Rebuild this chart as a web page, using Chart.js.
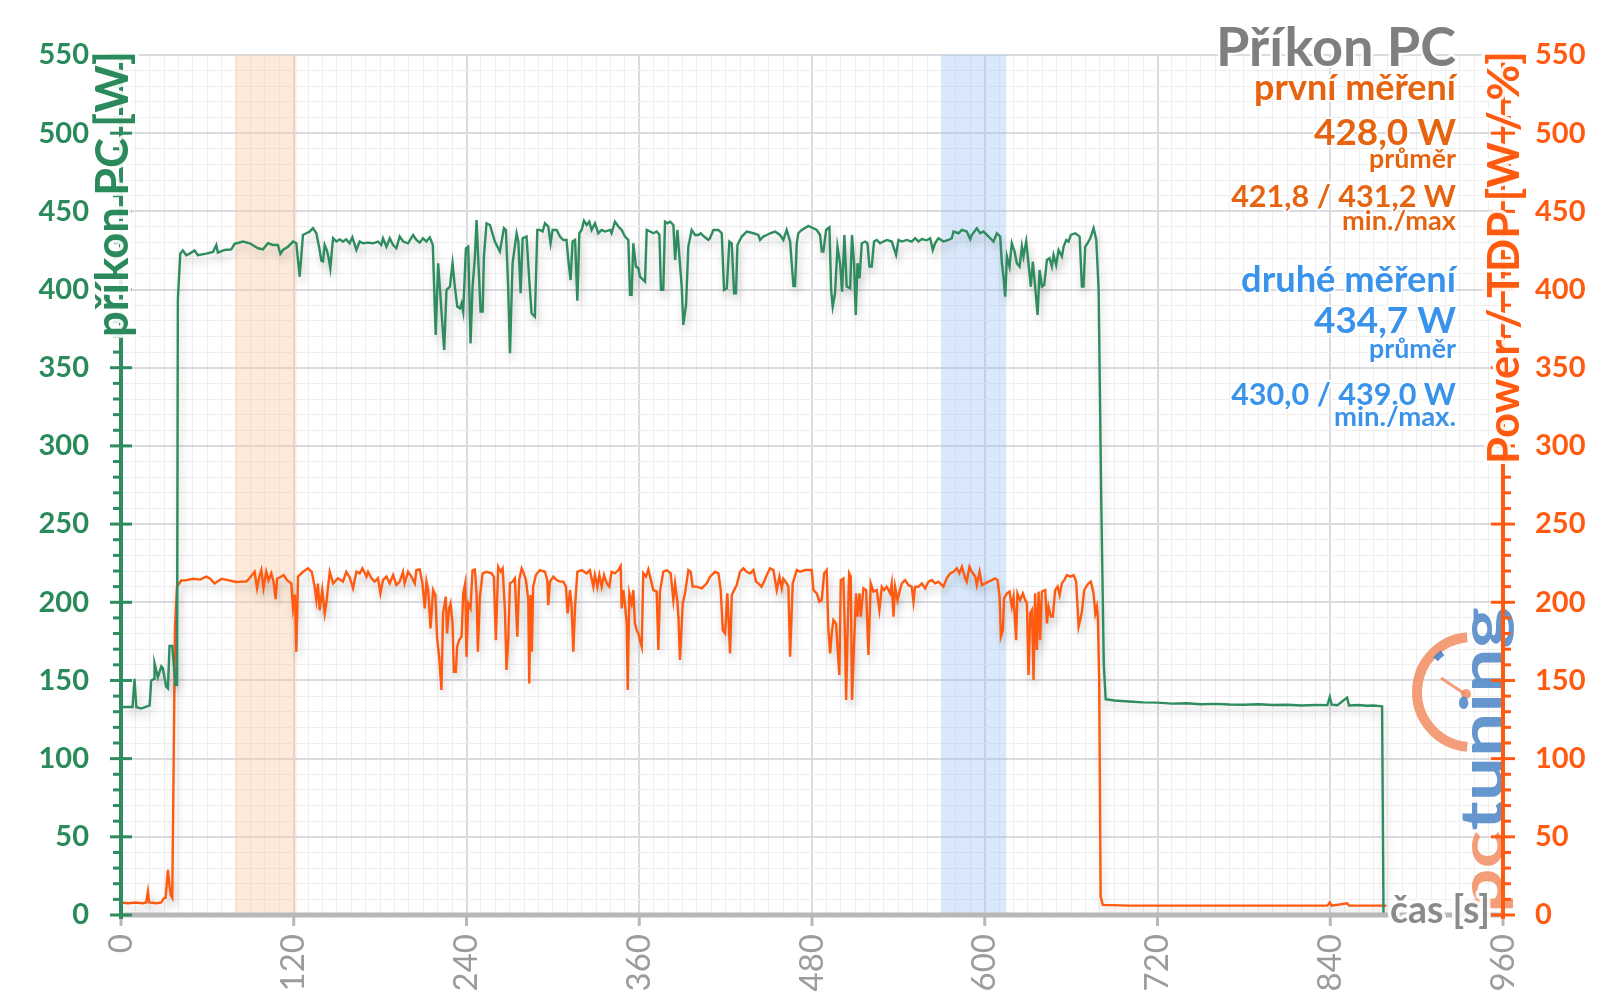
<!DOCTYPE html>
<html><head><meta charset="utf-8">
<script src="https://cdn.jsdelivr.net/npm/chart.js@4.4.1/dist/chart.umd.min.js"></script>
<style>html,body{margin:0;padding:0;background:#fff;overflow:hidden}#wrap{width:1600px;height:1008px}</style>
</head><body><div id="wrap"><canvas id="c" width="1600" height="1008"></canvas></div>
<script>
// ---------------- DATA ----------------
const xTickLabels = [0, 120, 240, 360, 480, 600, 720, 840, 960];
const yTickLabels = [0, 50, 100, 150, 200, 250, 300, 350, 400, 450, 500, 550];

const firstBand = [79, 122];   // s
const secondBand = [570, 615]; // s

const titleText = 'Příkon PC';
const firstTexts = ['první měření', '428,0 W', 'průměr', '421,8 / 431,2 W', 'min./max'];
const secondTexts = ['druhé měření', '434,7 W', 'průměr', '430,0 / 439,0 W', 'min./max.'];
const leftAxisTitle = 'příkon PC [W]';
const rightAxisTitle = 'Power / TDP [W / %]';
const xAxisTitle = 'čas [s]';

// příkon PC (left axis)
const greenTime = [
0, 8, 9.4, 10.6, 14, 19.9, 21, 23, 23.3, 25.6, 28, 29, 31.4, 32.6, 33.7, 35.6, 37.9, 38.9, 39.5, 41.2,
43, 45.3, 47.7, 51.1, 53.4, 59.2, 63.9, 66.2, 67.3, 72, 76.6, 78.9, 84.7, 89.4, 95.2, 98.6, 102.1, 105.6, 109, 110.7,
112.5, 116, 119.5, 121.8, 124.1, 126.4, 128.7, 131, 133.4, 135.7, 138, 139.2, 140.3, 141.5, 143, 144.3, 145.4, 147.3, 149.6, 151.9,
154.2, 156.5, 158.8, 160.7, 163.5, 165.8, 168.1, 171.6, 175, 178.5, 180.8, 182, 184.4, 186.7, 189, 191.3, 193.6, 196, 199.4, 202.9,
205.2, 207.5, 209.8, 212.2, 214.5, 216.6, 218.6, 220.3, 222.7, 224.5, 226.1, 228.5, 230.3, 231.9, 233.6, 235.4, 236.6, 237.7, 239.6, 241.2,
242.8, 244.2, 245.8, 247, 248.2, 249.8, 251.2, 252.1, 253.9, 256.3, 259.7, 263.2, 266, 267.4, 269, 270.2, 272, 274.8, 276, 277.6,
279, 281.7, 283.6, 285.2, 287.5, 289.2, 291, 292.9, 294.5, 296.8, 298.4, 299.8, 302.6, 304.9, 307.2, 309.5, 310.7, 312.3, 313.7, 315.4,
317, 318.4, 320, 321.6, 323.5, 325.3, 326.9, 329.2, 331.6, 333.9, 336.2, 339.7, 340.8, 343.1, 345.5, 347.8, 350.1, 352.4, 353.6, 354.7,
355.9, 357.7, 359.4, 360.5, 362.8, 364, 365.2, 367.5, 369.8, 372.1, 374, 375.1, 376.7, 377.9, 379.5, 381.4, 383.7, 384.9, 386.5, 387.9,
389.5, 390.6, 392.5, 394.1, 396.4, 398.8, 401.1, 402.7, 405, 408, 409.1, 411.5, 415, 417.3, 418.9, 420.8, 422.6, 424.2, 425.9, 427.2,
428.2, 431.2, 434.7, 439.3, 442.7, 443.9, 446.2, 448.6, 450.9, 454.4, 457.8, 460.1, 462.4, 464.8, 465.9, 467.1, 468.2, 469.4, 470.5, 472.9,
477.5, 481, 483.3, 485.6, 486.8, 487.9, 489.8, 492.1, 493.3, 494.4, 496, 497.7, 499.5, 500.9, 502.5, 504.1, 506.5, 507.8, 509.2, 510.4,
511.6, 513, 514.6, 516.9, 518.5, 519.9, 521.5, 523.1, 525, 527.3, 529.6, 532, 535.4, 538.4, 540.1, 542.4, 545.8, 549.3, 551.6, 554,
556.3, 559.7, 562.1, 563.9, 565.5, 567.8, 571.3, 574.8, 577.1, 578.3, 581.8, 584.1, 587.5, 589.9, 591, 594.5, 596.8, 599.1, 601.5, 603.8,
606.1, 608.4, 610.7, 611.9, 613, 614.2, 615.4, 617.2, 618.8, 620.7, 622.3, 624.2, 625.8, 626.9, 628.8, 630.4, 632, 633.4, 635, 636.7,
638.1, 639.7, 641.3, 643.2, 645, 646.6, 647.8, 649.6, 651.3, 653.6, 654.8, 656.6, 658.2, 659.8, 662.9, 665.9, 667.5, 668.6, 669.8, 671.4,
673.3, 675.6, 677.5, 679.1, 681, 682.7, 684, 690, 700, 710, 720, 730, 740, 750, 760, 770, 780, 790, 800, 810,
820, 830, 838, 839.7, 841, 845, 851.7, 853, 860, 865, 870, 876, 877
];
const greenPower = [
133, 133, 151, 133, 132, 134, 150, 151, 161, 152, 159, 158, 146, 145, 172, 172, 147, 147, 394, 423,
425, 422, 423, 425, 422, 423, 424, 428.5, 423.6, 425.3, 425.7, 429.2, 430.7, 429.6, 426.4, 425.7, 429.6, 428.5, 428.5, 422.8,
425.3, 427.4, 430.7, 429.6, 408.3, 434.9, 436, 437, 439.2, 436, 425.3, 418.3, 418, 428.5, 425, 420, 413.6, 432.8, 430.7, 432,
430.7, 432.1, 429.6, 433.4, 425.3, 430.7, 429.6, 430, 429.6, 430.7, 428.5, 432.8, 427.4, 432.8, 428.5, 426.4, 433.9, 430.7, 429.6, 434.9,
431.7, 430, 432.8, 430.7, 433.4, 428.5, 371, 416.8, 385, 361.4, 399.8, 401.9, 416.8, 401.9, 389.1, 388, 391.2, 385.9, 426.4, 427.5,
365.6, 401.9, 420, 444.5, 418.9, 385.9, 385.9, 421.1, 442.4, 441.3, 430.7, 424.3, 439.2, 438, 399.8, 359.3, 416.8, 436, 430.7, 397.6,
432.8, 433.9, 406.1, 384.8, 382.7, 438.1, 438.1, 437.1, 442.4, 440.3, 429.6, 438.1, 438.1, 433.9, 431.7, 431.7, 418.9, 406.1, 430.7, 431.7,
392.9, 436, 438.1, 444, 441.3, 443.4, 438.1, 442.4, 436, 438.1, 437.1, 438.1, 436, 443.4, 440.3, 438.1, 433.9, 431.7, 396.6, 396.6,
429.6, 414.7, 413.6, 408.3, 406.1, 405, 438.1, 437.1, 436, 437.1, 435, 399.8, 399.8, 443.4, 442.4, 443.4, 441.3, 418.9, 438.1, 421,
401.9, 377.4, 390.2, 427.5, 438.1, 434.9, 434.9, 436, 433.9, 431.7, 432.8, 438.1, 438.1, 436, 399.8, 400.8, 430.7, 429.6, 397.6, 397.6,
428.5, 433.9, 437.1, 436, 434.9, 431.7, 433.9, 434.9, 436, 437.1, 434.9, 431.7, 438.1, 430.7, 416.8, 402.3, 402.3, 429.6, 436, 438.1,
440.7, 439.2, 438.1, 434.9, 424.3, 424.3, 438.1, 439.8, 399.8, 389.1, 397.6, 427.5, 416.8, 398.7, 434.9, 401.9, 400.8, 434.9, 416.8, 383.8,
416.8, 407.2, 429.6, 430.7, 429.6, 414.7, 414.7, 430.7, 431.7, 429.6, 430.7, 431.7, 430.7, 422.1, 431.7, 430.7, 431.7, 430.7, 432.8, 430.7,
432.3, 431.5, 432.8, 425.3, 429.6, 432.8, 430.7, 431.7, 432.8, 437.1, 436, 438.1, 437.1, 432.1, 434.9, 439.2, 436, 437.1, 434.9, 432.8,
430.7, 436, 433.9, 416.8, 408.3, 395.5, 421.1, 414.7, 429.6, 424.3, 416.8, 414.7, 427.5, 421.1, 430.7, 416.8, 401.9, 417.9, 401.9, 383.8,
412.5, 401.9, 403, 418.9, 420, 414.7, 422.1, 415.7, 425.3, 421.1, 427.5, 431.7, 430.7, 434.9, 436, 433.9, 401.9, 401.9, 427.5, 429.6,
432.8, 439.2, 431.7, 399.8, 260, 160, 138, 137.2, 136.5, 136, 135.8, 135.2, 135.4, 134.8, 135, 134.6, 134.5, 134.8, 134.3, 134.5,
134, 134.3, 134.2, 139.5, 134.5, 134.2, 139, 134, 134.3, 133.8, 134, 133.5, 0
];

// Power / TDP (right axis)
const orangeTime = [
0, 5, 10, 15, 17.5, 18.7, 19.5, 25, 28, 29.6, 31, 32.6, 33.8, 34.5, 35.6, 36.5, 37.5, 38.9, 41.9, 45,
50, 55, 59.2, 62, 65, 70, 75, 80, 84.7, 87, 89, 92.8, 94.5, 96, 97.5, 99, 100.9, 102.5, 104.4, 106,
107.4, 108.5, 110.5, 113, 115.5, 118.3, 119.5, 120.8, 121.8, 123, 126.5, 129.9, 132.5, 134.5, 135.7, 136.8, 138, 139.8, 141.5, 142.7,
145, 147.3, 150.7, 154.2, 156.5, 158.8, 161.2, 163.5, 165.8, 167.7, 170.5, 171.6, 174, 176.2, 178.5, 180.2, 182, 184.4, 186.7, 189,
191.3, 193.6, 195.9, 197, 199.4, 201.7, 204.1, 205.2, 207.5, 209.4, 211, 212.2, 213.4, 215, 216.8, 218.4, 219.6, 221, 222.6, 223.7,
225.6, 226.5, 227.9, 228.9, 230.3, 231.2, 232.6, 233.5, 234.9, 236.6, 237.7, 239.1, 240, 241.2, 242.8, 244.2, 245.8, 247, 247.9, 249.3,
251.2, 253.9, 257.4, 259, 260.4, 262, 263.7, 265.1, 266.7, 267.8, 269, 270.2, 272, 273.6, 275.3, 276.6, 278.3, 279.4, 281.3, 282.9,
283.6, 284.5, 285.4, 286.3, 288.2, 291, 294.5, 296.1, 296.8, 298, 300.3, 302.6, 304.9, 307.2, 309.1, 310.2, 311.9, 313, 314.2, 315.4,
317, 320, 323.4, 325.7, 328.1, 329.2, 330.9, 332.3, 333.9, 335.5, 337.4, 339.2, 340.8, 343.1, 345.5, 347.1, 347.8, 349, 350.1, 351.3,
352, 353.1, 354.7, 355.9, 357, 358.2, 359.4, 360.5, 361.7, 362.8, 364.7, 366.3, 367.5, 369.8, 372.1, 373.3, 374.4, 376.7, 379.1, 381.8,
383.7, 384.9, 386.5, 387.2, 388.3, 390.2, 391.8, 394.1, 395.7, 397.1, 399.9, 403.4, 406.9, 409.2, 412.6, 415, 416.6, 418, 419.6, 421.2,
423.1, 424.3, 425.9, 427.7, 430, 432.3, 434.6, 437, 439.3, 441.1, 442.7, 444.9, 446.7, 448.6, 450.9, 453.2, 455.5, 457.4, 459, 460.1,
462.4, 463.6, 464.8, 466.6, 469.4, 471.8, 475.2, 479.8, 481, 483.3, 485.1, 486.8, 488.4, 490.2, 491.4, 492.6, 493.7, 494.9, 496.7, 497.7,
499, 500, 501.8, 503, 503.7, 504.6, 505.8, 506.9, 507.8, 509.2, 510.6, 511.6, 513, 513.9, 515.7, 517.6, 519.2, 520.8, 522.7, 525,
526.8, 528.5, 530.1, 531.9, 534.3, 535.4, 536.6, 537.7, 539.4, 540.8, 542.4, 544.7, 547, 549.3, 550.5, 551.6, 554, 556.3, 558.6, 560.9,
563.2, 565.5, 567.8, 571.3, 573.6, 576, 578.3, 580.6, 582.4, 584.1, 586.4, 587.5, 589.4, 591, 593.4, 594.5, 596.4, 598, 600.3, 602.6,
604.9, 607.2, 608.9, 610.3, 611.2, 612.6, 613.4, 615.4, 617.2, 618.8, 620, 621.8, 622.7, 624.6, 626.5, 628.1, 629.3, 630.4, 631.6, 632.8,
633.9, 635, 636.2, 637.4, 638.5, 639.7, 642, 643.2, 644.3, 646, 647.3, 648.9, 650.6, 652, 653.6, 655.2, 657.1, 659.4, 661.7, 663.5,
665.2, 666.3, 667.5, 669.1, 670.5, 672.1, 673.7, 675.6, 676.8, 677.9, 678.6, 679.5, 680.5, 682, 700, 720, 760, 800, 838, 839.7,
841, 851.7, 853, 879
];
const orangePower = [
8, 7.5, 8, 7.5, 8, 15, 8, 7.5, 8, 10.6, 11, 28.8, 18, 12.8, 11, 90, 184, 210, 214, 214,
215, 214.5, 216.4, 215, 212, 215, 214, 213, 213.2, 213.2, 215, 219.5, 208.9, 216, 220.6, 209, 219.5, 214, 218.5, 213,
202, 215, 216, 217.4, 214, 212.1, 196.1, 205, 168.4, 216.4, 219.5, 221.7, 219.5, 210, 201.4, 212, 195, 208, 192.9, 200,
219.5, 212.1, 215.3, 213.2, 219.5, 216, 208.9, 219.5, 218.5, 221.7, 216.4, 219.5, 215.3, 213.2, 215.3, 205.7, 214.2, 216.4, 212.1, 217.4,
211, 213.2, 219.5, 212.1, 219.5, 216.4, 212.1, 220.6, 221, 212.1, 196.1, 213.2, 207.8, 183.3, 207.8, 204.6, 176.9, 165.2, 143.9, 192.9,
203.6, 180.1, 196, 199.3, 186.5, 155.6, 155.6, 171.6, 175.8, 178, 205.7, 212.1, 165.2, 199.3, 196.1, 220.6, 221, 205.7, 168.4, 203.6,
218.5, 219.5, 218.5, 216.4, 175.8, 222.7, 219.5, 221.7, 195, 156.7, 175.8, 212.1, 213.2, 215.3, 178, 214.2, 221.7, 219.5, 214.2, 201.4,
148.1, 204.6, 168.4, 209.9, 217.4, 220.6, 219.5, 214.2, 198.2, 213.2, 216.4, 214.2, 213.2, 213.2, 210, 192.9, 207.8, 197.2, 168.4, 197.2,
219.5, 220.6, 218.5, 220.6, 210, 217.4, 210, 217.4, 210, 217.4, 212.1, 210, 219.5, 218.5, 220.6, 223.2, 196.1, 207.8, 198.2, 186.5,
143.9, 205.7, 199.3, 207.8, 186.5, 182.2, 180, 175.8, 171.6, 218.5, 216.4, 221, 216.4, 207.8, 206.8, 169.5, 206.8, 219.5, 220.6, 218.5,
201.4, 212.1, 200.4, 190.8, 163.1, 199.3, 205.7, 220.6, 219.5, 210, 210, 208.9, 212.1, 216.4, 219.5, 218.5, 207.8, 182.2, 180.1, 205.7,
167.3, 204.6, 207.8, 211, 219.5, 221.7, 219.5, 218.5, 220.6, 213.2, 212.1, 210, 213.2, 217.4, 221.7, 220.6, 207.8, 216.4, 208.9, 215,
212, 210, 165.2, 212.1, 220.6, 219.5, 220.6, 220.6, 207.8, 205.7, 200.4, 201.4, 218.5, 220.6, 182.2, 167.3, 180.1, 188.6, 186.5, 171.6,
153.5, 214.2, 215.3, 175.8, 137.5, 175.8, 218.5, 216.4, 137.5, 173.7, 205.7, 190.8, 205.7, 190.8, 208.9, 207.8, 166.3, 212.1, 206.8, 207.8,
195, 209.9, 207.8, 209.9, 205.7, 212.1, 190.8, 209.9, 201.4, 206.8, 212.1, 214.2, 211, 209.9, 200.4, 209.9, 209.9, 212.1, 208.9, 213.2,
214.2, 212.1, 213.2, 210, 215.3, 218.5, 219.5, 221.7, 218.5, 222.7, 215.3, 213.2, 222.7, 219.5, 216.4, 211, 219.5, 211, 212.1, 213.2,
214.2, 215.3, 214.2, 203.6, 178, 182.2, 202.5, 205.7, 206.8, 197.2, 203.6, 175.8, 205.7, 201.4, 205.7, 201.4, 199.3, 153.5, 192.9, 195,
150.3, 205.7, 169.5, 206.8, 175.8, 206.8, 207.8, 186.5, 197.2, 190.8, 190.8, 207.8, 210, 204.6, 212.1, 214.2, 217.4, 216.4, 217.4, 213.2,
184.4, 188.6, 194, 207.8, 210, 212.1, 213.2, 205.7, 192.9, 197.2, 190, 150, 12, 6.5, 6, 6, 6, 6, 6, 8,
6, 7.5, 6, 6
];

// ---------------- STYLE ----------------
const FONT = 'Lato, "Open Sans", "DejaVu Sans", sans-serif';
const GREEN = '#2e8c5e';
const GREEN_TXT = '#2a8a5b';
const ORANGE = '#ff5a10';
const ORANGE_TXT = '#e6640f';
const BLUE_TXT = '#3a93ea';
const GRID_MAJOR = '#d9dbe0';
const GRID_MINOR = '#eeeeee';
const AXIS_GRAY = '#b8b8b8';

function pts(ts, vs) { return ts.map((t, i) => ({ x: t, y: vs[i] })); }

function fitSize(ctx, text, weight, target) {
  ctx.font = `${weight} 100px ${FONT}`;
  return 100 * target / ctx.measureText(text).width;
}
function txt(ctx, text, x, y, size, color, align, halo) {
  ctx.font = `bold ${size}px ${FONT}`;
  ctx.textAlign = align; ctx.textBaseline = 'alphabetic';
  if (halo) { ctx.lineJoin = 'round'; ctx.lineWidth = halo; ctx.strokeStyle = 'rgba(255,255,255,0.9)'; ctx.strokeText(text, x, y); }
  ctx.fillStyle = color; ctx.fillText(text, x, y);
}
function seg(ctx, x1, y1, x2, y2) { ctx.beginPath(); ctx.moveTo(x1, y1); ctx.lineTo(x2, y2); ctx.stroke(); }

const bandsPlugin = {
  id: 'bands',
  beforeDatasetsDraw(chart) {
    const { ctx, chartArea: a, scales: { x } } = chart;
    ctx.save();
    ctx.fillStyle = 'rgba(250,200,160,0.38)';
    let x1 = x.getPixelForValue(firstBand[0]), x2 = x.getPixelForValue(firstBand[1]);
    ctx.fillRect(x1, a.top, x2 - x1, a.bottom - a.top);
    ctx.fillStyle = 'rgba(150,195,245,0.36)';
    x1 = x.getPixelForValue(secondBand[0]); x2 = x.getPixelForValue(secondBand[1]);
    ctx.fillRect(x1, a.top, x2 - x1, a.bottom - a.top);
    ctx.restore();
  }
};
const shadowPlugin = {
  id: 'shadow',
  beforeDatasetDraw(chart) {
    const ctx = chart.ctx; ctx.save();
    ctx.shadowColor = 'rgba(0,0,0,0.22)'; ctx.shadowBlur = 8; ctx.shadowOffsetX = 2; ctx.shadowOffsetY = 6;
  },
  afterDatasetDraw(chart) { chart.ctx.restore(); }
};

function drawLogo(ctx) {
  ctx.save();
  ctx.globalAlpha = 0.85;
  const cx = 1472, cy = 692, r = 55;
  ctx.strokeStyle = '#f28c62'; ctx.lineWidth = 10; ctx.lineCap = 'butt';
  ctx.beginPath(); ctx.arc(cx, cy, r, 95 * Math.PI / 180, 265 * Math.PI / 180); ctx.stroke();
  ctx.strokeStyle = '#3f7fc6'; ctx.lineWidth = 6;
  ctx.beginPath(); ctx.arc(cx, cy, r - 6, 222 * Math.PI / 180, 233 * Math.PI / 180); ctx.stroke();
  ctx.strokeStyle = '#f28c62'; ctx.lineWidth = 3;
  seg(ctx, 1441, 678, 1465, 694);
  ctx.fillStyle = '#f28c62'; ctx.beginPath(); ctx.arc(1466, 694, 5, 0, 2 * Math.PI); ctx.fill();
  ctx.translate(1503, 913); ctx.rotate(-Math.PI / 2);
  const size = 60;
  ctx.font = `bold ${size}px ${FONT}`; ctx.textAlign = 'left'; ctx.textBaseline = 'alphabetic';
  const total = ctx.measureText('pctuning').width;
  ctx.scale(306 / total, 1);
  ctx.fillStyle = '#f28c62'; ctx.fillText('pc', 0, 0);
  const w = ctx.measureText('pc').width;
  ctx.fillStyle = '#4a84c6'; ctx.fillText('tuning', w, 0);
  ctx.restore();
}

const overlayPlugin = {
  id: 'overlay',
  afterDraw(chart) {
    const { ctx, chartArea: a, scales } = chart;
    const xS = scales.x, yS = scales.y, y2S = scales.y2;
    drawLogo(ctx);
    ctx.save();
    ctx.lineCap = 'butt';
    // bottom axis
    ctx.strokeStyle = AXIS_GRAY; ctx.lineWidth = 5;
    seg(ctx, a.left, a.bottom, a.right, a.bottom);
    ctx.lineWidth = 3;
    xS.ticks.forEach(t => { if (xTickLabels.includes(t.value)) { const px = xS.getPixelForValue(t.value); seg(ctx, px, a.bottom, px, a.bottom + 11); } });
    // left axis
    ctx.strokeStyle = GREEN; ctx.lineWidth = 4;
    seg(ctx, a.left, a.top - 2, a.left, a.bottom + 4);
    ctx.lineWidth = 3;
    yS.ticks.forEach(t => { const py = yS.getPixelForValue(t.value);
      if (yTickLabels.includes(t.value)) seg(ctx, a.left - 11, py, a.left + 11, py); else seg(ctx, a.left - 8, py, a.left, py); });
    // right axis
    ctx.strokeStyle = ORANGE; ctx.lineWidth = 4;
    seg(ctx, a.right, a.top - 2, a.right, a.bottom + 4);
    ctx.lineWidth = 3;
    y2S.ticks.forEach(t => { const py = y2S.getPixelForValue(t.value);
      if (yTickLabels.includes(t.value)) seg(ctx, a.right - 12, py, a.right + 12, py); else seg(ctx, a.right, py, a.right + 8, py); });
    ctx.restore();

    ctx.save();
    // axis titles
    let s = fitSize(ctx, leftAxisTitle, 'bold', 286);
    ctx.save(); ctx.translate(128, 337); ctx.rotate(-Math.PI / 2);
    txt(ctx, leftAxisTitle, 0, 0, s, GREEN_TXT, 'left', 7); ctx.restore();
    s = fitSize(ctx, rightAxisTitle, 'bold', 413);
    ctx.save(); ctx.translate(1519, 464); ctx.rotate(-Math.PI / 2);
    txt(ctx, rightAxisTitle, 0, 0, s, ORANGE, 'left', 7); ctx.restore();
    s = fitSize(ctx, xAxisTitle, 'bold', 100);
    txt(ctx, xAxisTitle, 1490, 923, s, '#8a8a8a', 'right', 7);

    // info block
    const R = 1456;
    txt(ctx, titleText, R, 66, fitSize(ctx, titleText, 'bold', 240), '#7f7f7f', 'right', 5);
    const widths = [202, 142, 87, 225, 114];
    const widths2 = [215, 142, 87, 225, 122];
    const base1 = [100, 145, 168, 207, 230];
    const base2 = [292, 333, 358, 405, 426];
    firstTexts.forEach((t, i) => txt(ctx, t, R, base1[i], fitSize(ctx, t, 'bold', widths[i]), ORANGE_TXT, 'right', 4));
    secondTexts.forEach((t, i) => txt(ctx, t, R, base2[i], fitSize(ctx, t, 'bold', widths2[i]), BLUE_TXT, 'right', 4));
    ctx.restore();
  }
};

const majorOr = (list, a, b) => c => (c.tick && list.includes(c.tick.value)) ? a : b;

new Chart(document.getElementById('c'), {
  type: 'line',
  data: {
    datasets: [
      { label: rightAxisTitle, data: pts(orangeTime, orangePower), yAxisID: 'y2', borderColor: ORANGE, borderWidth: 2.4, pointRadius: 0, tension: 0, order: 2 },
      { label: leftAxisTitle, data: pts(greenTime, greenPower), yAxisID: 'y', borderColor: GREEN, borderWidth: 2.4, pointRadius: 0, tension: 0, order: 1 }
    ]
  },
  options: {
    responsive: false, animation: false, devicePixelRatio: 1,
    layout: { padding: { top: 55, left: 0, right: 0, bottom: 0 } },
    plugins: { legend: { display: false }, tooltip: { enabled: false } },
    scales: {
      x: {
        type: 'linear', min: 0, max: 960,
        afterFit(s) { s.height = 93; },
        ticks: { stepSize: 10, autoSkip: false, maxRotation: 90, minRotation: 90, padding: 19, color: '#9c9c9c',
          font: { family: FONT, size: 33 }, callback: v => xTickLabels.includes(v) ? String(v) : '' },
        grid: { drawTicks: false, color: majorOr(xTickLabels, GRID_MAJOR, GRID_MINOR), lineWidth: majorOr(xTickLabels, 2, 1) },
        border: { display: false }
      },
      y: {
        position: 'left', min: 0, max: 550,
        afterFit(s) { s.width = 121; },
        ticks: { stepSize: 10, autoSkip: false, padding: 32, color: GREEN_TXT, font: { family: FONT, size: 29, weight: 'bold' },
          callback: v => yTickLabels.includes(v) ? String(v) : '' },
        grid: { drawTicks: false, color: majorOr(yTickLabels, GRID_MAJOR, GRID_MINOR), lineWidth: majorOr(yTickLabels, 2, 1) },
        border: { display: false }
      },
      y2: {
        position: 'right', min: 0, max: 550,
        afterFit(s) { s.width = 97; },
        ticks: { stepSize: 10, autoSkip: false, padding: 32, color: ORANGE, font: { family: FONT, size: 29, weight: 'bold' },
          callback: v => yTickLabels.includes(v) ? String(v) : '' },
        grid: { drawOnChartArea: false, drawTicks: false },
        border: { display: false }
      }
    }
  },
  plugins: [bandsPlugin, shadowPlugin, overlayPlugin]
});
</script>
</body></html>
